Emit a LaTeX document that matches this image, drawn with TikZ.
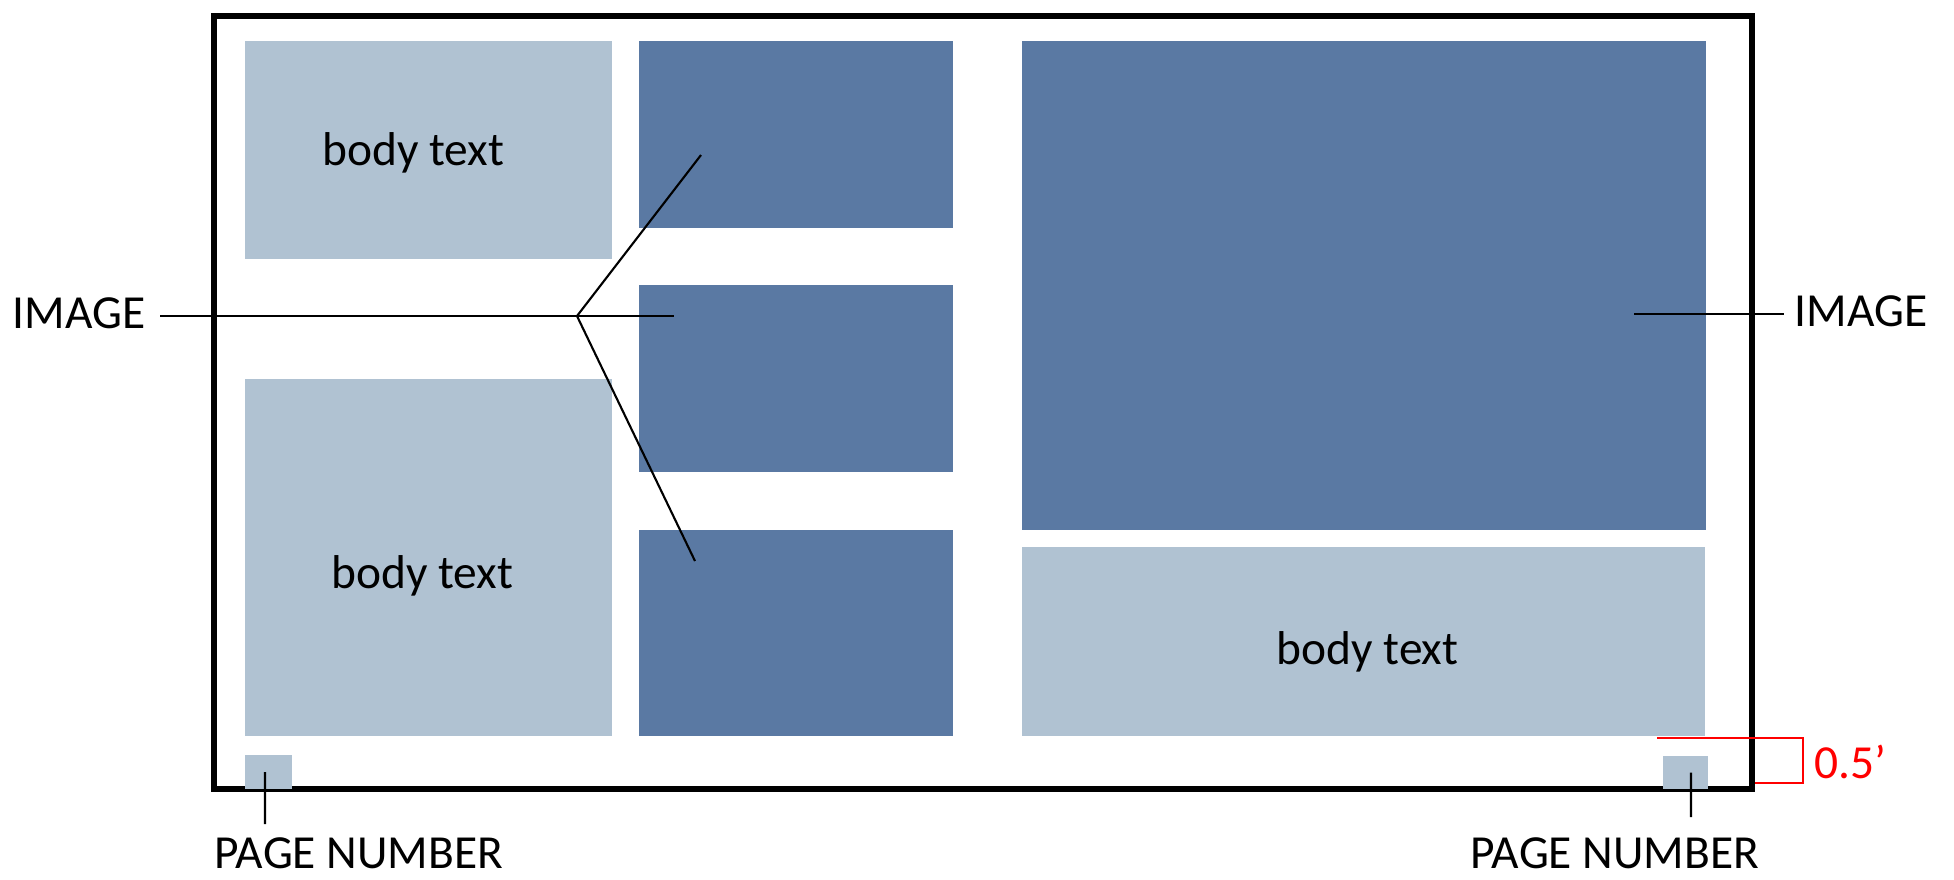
\documentclass[tikz,border=0pt]{standalone}
\usepackage{fontspec}
\setmainfont{Carlito}
\usetikzlibrary{positioning}

\definecolor{textblue}{HTML}{B0C2D2}
\definecolor{imageblue}{HTML}{5A79A3}

\begin{document}
\begin{tikzpicture}[
    textbox/.style={fill=textblue, inner sep=0pt, font=\fontsize{13.5}{16}\selectfont},
    imagebox/.style={fill=imageblue, inner sep=0pt},
    callout/.style={inner sep=0pt, font=\fontsize{13.5}{16}\selectfont},
    pointer/.style={line width=0.6pt},
    measure/.style={red, line width=0.6pt}
]
\useasboundingbox (0,0) rectangle (19.54,-8.79);

% -------------------------
% Page Frame
% -------------------------
\draw[line width=1.6pt] (2.14,-0.16) rectangle (17.52,-7.89);

% -------------------------
% Body Text Blocks
% -------------------------
\node[textbox, minimum width=3.67cm, minimum height=2.18cm, text height=0.3cm, text depth=0cm] (BodyTop) at (4.285,-1.50) {body text\kern0.3cm};
\node[textbox, minimum width=3.67cm, minimum height=3.57cm, text height=0.62cm, text depth=0cm] (BodyBottom) at (4.285,-5.575) {body text\kern0.12cm};
\node[textbox, minimum width=6.83cm, minimum height=1.89cm, text height=0.46cm, text depth=0cm] (BodyRight) at (13.635,-6.415) {\kern0.08cm body text};

% -------------------------
% Image Blocks
% -------------------------
\node[imagebox, minimum width=3.14cm, minimum height=1.87cm] (Img1) at (7.96,-1.345) {};
\node[imagebox, minimum width=3.14cm, minimum height=1.87cm] (Img2) at (7.96,-3.785) {};
\node[imagebox, minimum width=3.14cm, minimum height=2.06cm] (Img3) at (7.96,-6.33) {};
\node[imagebox, minimum width=6.84cm, minimum height=4.89cm] (ImgBig) at (13.64,-2.855) {};

% -------------------------
% Page Numbers
% -------------------------
\node[textbox, minimum width=0.47cm, minimum height=0.34cm] (PageL) at (2.685,-7.72) {};
\node[textbox, minimum width=0.45cm, minimum height=0.33cm] (PageR) at (16.855,-7.725) {};

% -------------------------
% Callout Labels
% -------------------------
\node[callout, anchor=west] (ImageL) at (0.12,-3.13) {IMAGE};
\node[callout, anchor=west] (ImageR) at (17.94,-3.11) {IMAGE};
\node[callout] (PageNumL) at (3.59,-8.53) {PAGE NUMBER};
\node[callout] (PageNumR) at (16.15,-8.53) {PAGE NUMBER};

% Pointer ends
\coordinate (Hub) at (5.77,-3.16);
\coordinate (Tip1) at (7.01,-1.55);
\coordinate (Tip2) at (6.74,-3.16);
\coordinate (Tip3) at (6.95,-5.61);
\coordinate (TipBig) at (16.34,-3.14);
\coordinate (PageTipL) at (2.65,-8.24);
\coordinate (PageTipR) at (16.91,-8.17);

% -------------------------
% Pointer Lines
% -------------------------
\draw[pointer] (ImageL.east) ++(0.14,-0.03) -- (Tip2);
\draw[pointer] (Tip1) -- (Hub) -- (Tip3);
\draw[pointer] (TipBig) -- ([xshift=-0.1cm, yshift=-0.03cm]ImageR.west);
\draw[pointer] (PageL.center) ++(-0.035,0) -- (PageTipL);
\draw[pointer] (PageR.center) ++(0.055,0) -- (PageTipR);

% -------------------------
% Margin Measure (red)
% -------------------------
\coordinate (MarkTop) at (16.57,-7.38);
\coordinate (MarkBot) at (17.55,-7.83);
\draw[measure] (MarkTop) -| (18.03,-7.83) -- (MarkBot);
\node[callout, red, anchor=west] (Margin) at (18.14,-7.62) {0.5’};

\end{tikzpicture}
\end{document}
